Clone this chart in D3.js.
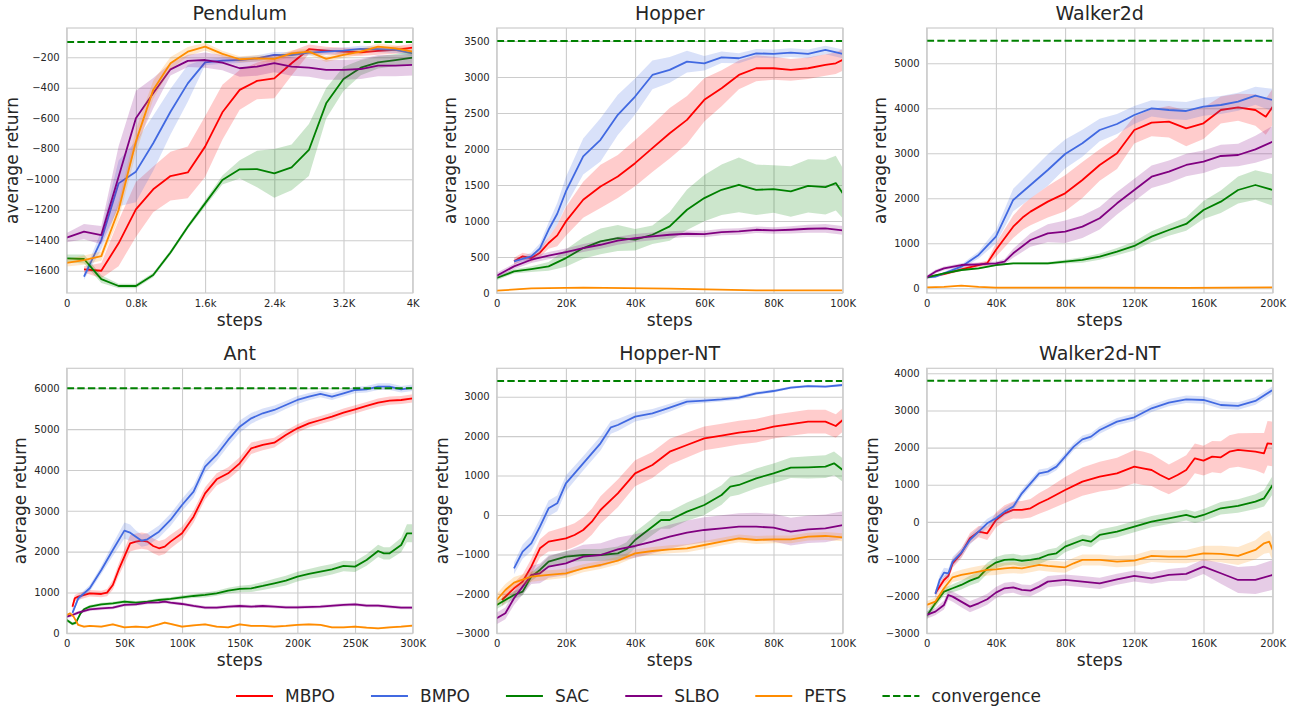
<!DOCTYPE html>
<html>
<head>
<meta charset="utf-8">
<script src="https://cdn.jsdelivr.net/npm/d3@7"></script>
<style>
  body { margin: 0; background: #fff; }
  text { font-family: 'DejaVu Sans', sans-serif; fill: #262626; }
</style>
</head>
<body>
<script>
// each point: [steps, mean return, spread of the shaded band]

const methods = ['MBPO', 'BMPO', 'SAC', 'SLBO', 'PETS'];
const methodColors = ['red', 'royalblue', 'green', 'purple', 'darkorange'];

// ---- Pendulum
const pendulumMBPO = [[200,-1591,20],[400,-1600,50],[600,-1420,150],[800,-1198,180],[1000,-1066,150],[1200,-979,160],[1400,-955,170],[1600,-786,200],[1800,-561,180],[2000,-414,130],[2200,-355,120],[2400,-338,130],[2600,-239,80],[2800,-147,30],[3000,-156,25],[3200,-163,25],[3400,-167,25],[3600,-158,25],[3800,-152,25],[4000,-137,25]];
const pendulumBMPO = [[200,-1639,20],[400,-1399,60],[600,-1027,150],[800,-950,200],[1000,-764,180],[1200,-557,150],[1400,-371,120],[1600,-233,20],[1800,-222,20],[2000,-218,20],[2200,-207,20],[2400,-185,20],[2600,-185,20],[2800,-169,20],[3000,-163,20],[3200,-156,20],[3400,-145,20],[3600,-147,20],[3800,-152,20],[4000,-174,20]];
const pendulumSAC = [[0,-1519,25],[200,-1523,30],[400,-1655,25],[600,-1700,15],[800,-1700,15],[1000,-1628,15],[1200,-1480,15],[1400,-1311,15],[1600,-1158,20],[1800,-1005,30],[2000,-935,60],[2200,-933,120],[2400,-961,160],[2600,-922,150],[2800,-808,170],[3000,-502,100],[3200,-342,80],[3400,-268,50],[3600,-233,40],[3800,-218,40],[4000,-202,40]];
const pendulumSLBO = [[0,-1383,30],[200,-1344,50],[400,-1366,60],[600,-983,200],[800,-600,180],[1000,-436,100],[1200,-279,40],[1400,-224,40],[1600,-218,50],[1800,-235,50],[2000,-272,55],[2200,-261,60],[2400,-239,60],[2600,-261,60],[2800,-268,60],[3000,-283,65],[3200,-283,65],[3400,-277,65],[3600,-255,70],[3800,-255,70],[4000,-250,70]];
const pendulumPETS = [[0,-1548,25],[200,-1530,30],[400,-1504,30],[600,-1202,60],[800,-753,80],[1000,-414,60],[1200,-239,40],[1400,-163,30],[1600,-130,25],[1800,-178,20],[2000,-213,20],[2200,-207,20],[2400,-211,20],[2600,-174,20],[2800,-163,20],[3000,-211,20],[3200,-185,20],[3400,-163,20],[3600,-130,20],[3800,-141,20],[4000,-163,20]];

// ---- Hopper
const hopperMBPO = [[5000,439,50],[7500,509,50],[10000,485,50],[12500,560,60],[15000,694,80],[17500,800,150],[20000,994,200],[25000,1295,250],[30000,1480,300],[35000,1618,300],[40000,1803,320],[45000,2011,330],[50000,2219,350],[55000,2404,330],[60000,2682,300],[65000,2843,250],[70000,3028,200],[75000,3121,180],[80000,3121,160],[85000,3098,150],[90000,3121,150],[95000,3167,150],[98000,3190,150],[100000,3237,150]];
const hopperBMPO = [[5000,439,30],[10000,509,50],[12500,620,70],[15000,878,100],[17500,1100,150],[20000,1410,200],[25000,1896,250],[30000,2127,300],[35000,2474,280],[40000,2728,250],[45000,3028,200],[50000,3098,180],[55000,3213,150],[60000,3190,100],[65000,3273,80],[70000,3260,70],[75000,3329,60],[80000,3320,60],[85000,3338,60],[90000,3320,60],[95000,3375,60],[100000,3320,60]];
const hopperSAC = [[0,208,30],[5000,300,30],[10000,333,40],[15000,370,60],[20000,485,120],[25000,624,150],[30000,717,180],[35000,763,180],[40000,740,150],[45000,809,130],[50000,925,200],[55000,1156,280],[60000,1318,320],[65000,1433,350],[70000,1503,380],[75000,1433,350],[80000,1443,330],[85000,1410,350],[90000,1489,370],[95000,1470,380],[98000,1526,380],[100000,1387,350]];
const hopperSLBO = [[0,240,40],[5000,370,40],[10000,462,45],[15000,518,50],[20000,569,50],[25000,624,55],[30000,670,55],[35000,726,55],[40000,763,55],[45000,786,55],[50000,809,50],[55000,823,45],[60000,818,45],[65000,846,45],[70000,855,45],[75000,878,45],[80000,869,45],[85000,878,50],[90000,892,55],[95000,897,60],[100000,869,60]];
const hopperPETS = [[0,32,5],[10000,65,5],[25000,74,5],[50000,60,5],[75000,37,5],[100000,37,5]];

// ---- Walker2d
const walkerMBPO = [[0,244,30],[10000,318,30],[20000,422,40],[30000,518,50],[35000,560,60],[40000,852,150],[50000,1370,250],[56000,1592,280],[60000,1704,300],[70000,1926,350],[80000,2111,400],[90000,2407,400],[100000,2741,350],[110000,3000,350],[120000,3518,300],[130000,3681,300],[140000,3704,350],[150000,3555,400],[160000,3667,350],[170000,3963,300],[180000,4022,300],[190000,3963,350],[196000,3815,400],[200000,4037,400]];
const walkerBMPO = [[0,244,30],[5000,259,30],[10000,333,30],[20000,481,50],[30000,741,80],[40000,1148,150],[50000,1963,250],[60000,2296,300],[70000,2630,350],[80000,2985,320],[90000,3222,300],[100000,3518,250],[110000,3652,220],[120000,3852,200],[130000,4000,180],[140000,3963,200],[150000,3941,200],[160000,4037,200],[170000,4074,200],[180000,4148,200],[190000,4281,200],[200000,4185,250]];
const walkerSAC = [[0,244,20],[10000,333,20],[20000,407,20],[30000,444,20],[40000,518,20],[50000,556,20],[60000,556,25],[70000,556,30],[80000,593,40],[90000,630,60],[100000,704,70],[110000,815,80],[120000,941,100],[130000,1148,120],[140000,1296,130],[150000,1430,150],[160000,1741,200],[170000,1926,250],[180000,2185,300],[190000,2296,330],[200000,2185,350]];
const walkerSLBO = [[0,244,40],[5000,370,40],[10000,444,40],[20000,518,40],[30000,533,40],[40000,556,40],[45000,593,60],[50000,778,100],[60000,1074,150],[70000,1222,200],[80000,1259,250],[90000,1370,250],[100000,1556,250],[110000,1889,250],[120000,2185,250],[130000,2481,250],[140000,2593,250],[150000,2741,250],[160000,2815,250],[170000,2941,250],[180000,2963,250],[190000,3089,300],[200000,3259,350]];
const walkerPETS = [[0,22,10],[10000,30,10],[20000,59,10],[30000,30,10],[40000,15,10],[100000,15,10],[150000,10,10],[200000,22,10]];

// ---- Ant
const antMBPO = [[5000,653,80],[7000,857,80],[10000,898,80],[20000,980,80],[30000,963,80],[35000,996,90],[40000,1184,120],[45000,1551,150],[50000,1878,180],[55000,2204,200],[60000,2245,200],[65000,2269,200],[70000,2245,200],[75000,2139,180],[80000,2082,180],[85000,2122,180],[90000,2245,170],[100000,2449,160],[110000,2857,150],[120000,3428,150],[130000,3771,150],[140000,3918,150],[150000,4163,150],[160000,4531,140],[170000,4612,130],[180000,4669,120],[190000,4857,110],[200000,5020,100],[210000,5143,100],[220000,5224,100],[230000,5306,100],[240000,5404,100],[250000,5486,100],[260000,5567,100],[270000,5649,100],[280000,5698,100],[290000,5714,100],[300000,5755,100]];
const antBMPO = [[5000,500,50],[10000,857,60],[20000,1102,80],[30000,1551,100],[40000,2041,150],[50000,2514,200],[55000,2465,200],[60000,2367,150],[65000,2269,150],[70000,2302,150],[80000,2490,150],[90000,2775,150],[100000,3143,150],[110000,3469,150],[120000,4082,150],[130000,4367,150],[140000,4735,150],[150000,5061,150],[160000,5265,130],[170000,5388,120],[180000,5469,110],[190000,5592,100],[200000,5714,100],[210000,5796,90],[220000,5861,80],[230000,5796,80],[240000,5878,80],[250000,5959,80],[260000,5976,80],[270000,6041,80],[280000,6041,80],[290000,5976,80],[300000,6016,80]];
const antSAC = [[0,327,40],[5000,229,40],[8000,261,40],[12000,490,40],[15000,588,40],[20000,653,40],[30000,710,40],[40000,735,40],[50000,775,40],[60000,751,40],[70000,775,40],[80000,816,40],[90000,841,40],[100000,882,50],[110000,914,50],[120000,939,60],[130000,980,60],[140000,1045,70],[150000,1086,80],[160000,1102,90],[170000,1159,100],[180000,1224,110],[190000,1290,120],[200000,1388,120],[210000,1453,120],[220000,1510,130],[230000,1567,130],[240000,1649,130],[250000,1633,130],[260000,1796,140],[270000,2016,150],[275000,1959,150],[280000,1959,150],[290000,2163,180],[295000,2449,220],[300000,2449,220]];
const antSLBO = [[0,408,40],[5000,449,40],[10000,506,40],[20000,588,40],[30000,612,40],[40000,629,40],[50000,694,40],[60000,710,40],[70000,751,40],[80000,759,40],[85000,775,40],[90000,751,40],[100000,718,40],[110000,669,40],[120000,629,40],[130000,629,40],[140000,653,40],[150000,669,40],[160000,653,40],[170000,669,40],[180000,653,40],[190000,637,40],[200000,637,40],[220000,653,40],[240000,694,40],[250000,710,40],[260000,678,40],[270000,678,40],[280000,653,40],[290000,629,40],[300000,629,40]];
const antPETS = [[0,449,25],[3000,490,25],[6000,408,25],[10000,204,25],[15000,163,25],[20000,180,25],[30000,163,25],[40000,220,25],[50000,147,25],[60000,163,25],[70000,147,25],[80000,220,25],[85000,261,25],[90000,229,25],[100000,163,25],[110000,196,25],[120000,220,25],[130000,163,25],[140000,147,25],[150000,220,25],[160000,180,25],[170000,180,25],[180000,163,25],[190000,180,25],[200000,204,25],[210000,220,25],[220000,204,25],[230000,147,25],[240000,147,25],[250000,163,25],[260000,139,25],[270000,122,25],[280000,147,25],[290000,163,25],[300000,188,25]];

// ---- Hopper-NT
const hopperNtMBPO = [[1500,-2155,150],[5000,-1859,150],[7500,-1690,180],[10000,-1310,200],[12500,-845,230],[15000,-676,250],[20000,-592,300],[22500,-507,300],[25000,-380,320],[27500,-169,330],[30000,127,350],[35000,549,350],[40000,1056,330],[45000,1268,330],[50000,1606,330],[55000,1775,320],[60000,1944,300],[65000,2011,300],[70000,2087,300],[75000,2138,300],[80000,2239,300],[85000,2307,300],[90000,2366,300],[95000,2366,300],[98000,2256,300],[100000,2408,300]];
const hopperNtBMPO = [[5000,-1352,150],[7500,-930,180],[10000,-718,200],[12500,-296,200],[15000,169,200],[17500,296,200],[20000,803,200],[25000,1310,180],[30000,1817,180],[33000,2223,160],[35000,2282,150],[40000,2493,120],[45000,2577,110],[50000,2721,100],[55000,2873,80],[60000,2899,60],[65000,2932,55],[70000,2975,50],[75000,3085,45],[80000,3144,40],[85000,3228,35],[90000,3270,30],[95000,3254,30],[100000,3296,30]];
const hopperNtSAC = [[0,-2282,100],[5000,-2028,100],[7500,-1944,100],[10000,-1563,110],[12500,-1394,120],[15000,-1183,130],[20000,-1056,140],[25000,-1014,150],[30000,-1014,150],[35000,-972,170],[37500,-870,180],[40000,-634,200],[45000,-296,210],[47500,-127,220],[50000,-127,220],[55000,84,230],[60000,253,250],[65000,507,250],[67500,718,250],[70000,761,250],[75000,930,250],[80000,1056,250],[85000,1200,260],[90000,1208,280],[95000,1225,290],[97500,1310,300],[100000,1141,300]];
const hopperNtSLBO = [[0,-2620,150],[2500,-2493,150],[5000,-2113,170],[7500,-1817,200],[10000,-1521,230],[12500,-1479,250],[15000,-1310,280],[20000,-1225,300],[25000,-1056,300],[30000,-1014,300],[35000,-870,300],[40000,-786,300],[45000,-676,300],[50000,-549,300],[55000,-448,310],[60000,-380,320],[65000,-338,330],[70000,-296,340],[75000,-296,350],[80000,-321,350],[85000,-423,350],[90000,-363,350],[95000,-338,350],[100000,-254,350]];
const hopperNtPETS = [[0,-2155,150],[2500,-1902,150],[5000,-1715,140],[10000,-1563,130],[15000,-1521,120],[20000,-1479,110],[25000,-1352,100],[30000,-1268,100],[35000,-1158,100],[40000,-972,100],[45000,-913,100],[50000,-870,100],[55000,-845,100],[60000,-761,100],[65000,-676,100],[70000,-592,100],[75000,-634,100],[80000,-617,100],[85000,-617,100],[90000,-549,100],[95000,-532,100],[100000,-566,100]];

// ---- Walker2d-NT
const walkerNtMBPO = [[5000,-1923,100],[10000,-1564,100],[12500,-1456,110],[15000,-1115,120],[20000,-846,130],[25000,-442,140],[30000,-263,150],[35000,-307,180],[40000,51,200],[45000,231,220],[50000,321,230],[55000,321,240],[60000,366,250],[65000,500,280],[70000,608,300],[80000,859,350],[90000,1084,380],[100000,1218,400],[110000,1308,420],[120000,1487,450],[125000,1442,450],[130000,1397,430],[135000,1263,420],[140000,1147,400],[145000,1263,400],[150000,1397,400],[155000,1712,400],[160000,1649,400],[165000,1756,420],[170000,1739,430],[175000,1891,440],[180000,1936,450],[190000,1891,500],[195000,1846,550],[197000,2115,600],[200000,2097,600]];
const walkerNtBMPO = [[5000,-1941,100],[7500,-1564,120],[10000,-1366,130],[12500,-1384,130],[15000,-1070,130],[20000,-828,120],[25000,-487,120],[30000,-263,120],[35000,-38,120],[40000,96,120],[45000,276,110],[50000,410,110],[55000,769,100],[60000,1039,100],[65000,1308,100],[70000,1353,100],[75000,1487,100],[80000,1756,100],[85000,2026,100],[90000,2223,100],[95000,2295,100],[100000,2474,100],[110000,2699,100],[120000,2815,100],[130000,3058,100],[140000,3210,100],[150000,3300,100],[160000,3282,100],[170000,3147,100],[180000,3121,100],[190000,3255,100],[200000,3551,100]];
const walkerNtSAC = [[0,-2533,100],[5000,-2192,100],[10000,-1878,100],[15000,-1788,110],[20000,-1698,120],[25000,-1582,130],[30000,-1492,140],[35000,-1250,150],[40000,-1097,150],[45000,-1025,150],[50000,-1007,150],[55000,-1052,150],[60000,-1025,150],[65000,-981,150],[70000,-891,150],[75000,-846,150],[80000,-667,150],[90000,-487,150],[95000,-532,150],[100000,-353,150],[110000,-263,150],[120000,-128,150],[130000,6,150],[140000,96,150],[150000,186,150],[155000,123,150],[160000,186,160],[170000,366,170],[180000,428,180],[190000,545,200],[195000,635,220],[200000,994,250]];
const walkerNtSLBO = [[0,-2506,100],[5000,-2416,100],[10000,-2237,120],[12500,-1968,130],[15000,-2013,140],[20000,-2147,150],[25000,-2282,150],[30000,-2192,150],[35000,-2084,150],[40000,-1905,150],[45000,-1788,150],[50000,-1761,150],[55000,-1833,150],[60000,-1851,150],[65000,-1743,150],[70000,-1609,150],[80000,-1564,150],[90000,-1609,150],[100000,-1654,150],[110000,-1546,150],[120000,-1456,150],[130000,-1519,150],[140000,-1429,160],[150000,-1402,180],[160000,-1205,200],[170000,-1384,280],[180000,-1564,350],[190000,-1564,380],[200000,-1429,400]];
const walkerNtPETS = [[0,-2237,100],[5000,-2147,110],[10000,-1788,120],[15000,-1492,130],[20000,-1429,140],[25000,-1384,150],[30000,-1340,150],[35000,-1295,150],[40000,-1277,150],[45000,-1250,150],[50000,-1232,150],[55000,-1250,150],[60000,-1205,150],[65000,-1160,150],[70000,-1187,150],[75000,-1205,150],[80000,-1223,150],[85000,-1115,150],[90000,-1025,150],[100000,-1025,150],[110000,-1070,150],[120000,-1043,150],[130000,-918,160],[140000,-936,170],[150000,-936,180],[160000,-846,200],[170000,-864,220],[180000,-918,240],[190000,-756,260],[195000,-577,280],[198000,-532,300],[200000,-756,300]];

// ---- titles, convergence levels, axis domains and ticks
const titles = ['Pendulum', 'Hopper', 'Walker2d', 'Ant', 'Hopper-NT', 'Walker2d-NT'];
const convergence = [-100, 3500, 5500, 6000, 3400, 3800];
const xMax = [4000, 100000, 200000, 300000, 100000, 200000];
const yDomains = [[-1746, -8], [0, 3680], [-104, 5785], [0, 6490], [-3000, 3720], [-3000, 4135]];
const pendulumXTicks = [0, 800, 1600, 2400, 3200, 4000];
const pendulumXLabels = ['0', '0.8k', '1.6k', '2.4k', '3.2K', '4K'];
const k100XTicks = [0, 20000, 40000, 60000, 80000, 100000];
const k100XLabels = ['0', '20K', '40K', '60K', '80K', '100K'];
const k200XTicks = [0, 40000, 80000, 120000, 160000, 200000];
const k200XLabels = ['0', '40K', '80K', '120K', '160K', '200K'];
const k300XTicks = [0, 50000, 100000, 150000, 200000, 250000, 300000];
const k300XLabels = ['0', '50K', '100K', '150K', '200K', '250K', '300K'];
const pendulumYTicks = [-1600, -1400, -1200, -1000, -800, -600, -400, -200];
const hopperYTicks = [0, 500, 1000, 1500, 2000, 2500, 3000, 3500];
const walkerYTicks = [0, 1000, 2000, 3000, 4000, 5000];
const antYTicks = [0, 1000, 2000, 3000, 4000, 5000, 6000];
const hopperNtYTicks = [-3000, -2000, -1000, 0, 1000, 2000, 3000];
const walkerNtYTicks = [-3000, -2000, -1000, 0, 1000, 2000, 3000, 4000];

const panels = [
  { series: [pendulumMBPO, pendulumBMPO, pendulumSAC, pendulumSLBO, pendulumPETS], xt: pendulumXTicks, xl: pendulumXLabels, yt: pendulumYTicks },
  { series: [hopperMBPO, hopperBMPO, hopperSAC, hopperSLBO, hopperPETS], xt: k100XTicks, xl: k100XLabels, yt: hopperYTicks },
  { series: [walkerMBPO, walkerBMPO, walkerSAC, walkerSLBO, walkerPETS], xt: k200XTicks, xl: k200XLabels, yt: walkerYTicks },
  { series: [antMBPO, antBMPO, antSAC, antSLBO, antPETS], xt: k300XTicks, xl: k300XLabels, yt: antYTicks },
  { series: [hopperNtMBPO, hopperNtBMPO, hopperNtSAC, hopperNtSLBO, hopperNtPETS], xt: k100XTicks, xl: k100XLabels, yt: hopperNtYTicks },
  { series: [walkerNtMBPO, walkerNtBMPO, walkerNtSAC, walkerNtSLBO, walkerNtPETS], xt: k200XTicks, xl: k200XLabels, yt: walkerNtYTicks }
];

const width = 1297;
const height = 708;
const plotLefts = [66.7, 496.7, 926.7];
const plotTops = [28, 368.3];
const plotW = 346;
const plotH = 265;
const gridColor = '#cccccc';
const minus = (d) => (d < 0 ? '\u2212' + Math.abs(d) : String(d));

const svg = d3.select('body').append('svg').attr('width', width).attr('height', height);

panels.forEach((p, i) => {
  const left = plotLefts[i % 3];
  const top = plotTops[Math.floor(i / 3)];
  const g = svg.append('g').attr('transform', `translate(${left},${top})`);

  const x = d3.scaleLinear().domain([0, xMax[i]]).range([0, plotW]);
  const y = d3.scaleLinear().domain(yDomains[i]).range([plotH, 0]);

  // grid
  g.append('g')
    .attr('transform', `translate(0,${plotH})`)
    .call(d3.axisBottom(x).tickValues(p.xt).tickSize(-plotH).tickFormat(''))
    .call((a) => a.select('.domain').remove())
    .call((a) => a.selectAll('line').attr('stroke', gridColor).attr('stroke-width', 1.1));
  g.append('g')
    .call(d3.axisLeft(y).tickValues(p.yt).tickSize(-plotW).tickFormat(''))
    .call((a) => a.select('.domain').remove())
    .call((a) => a.selectAll('line').attr('stroke', gridColor).attr('stroke-width', 1.1));

  // tick labels
  const xAxis = g.append('g')
    .attr('transform', `translate(0,${plotH})`)
    .call(d3.axisBottom(x).tickValues(p.xt).tickSize(0).tickPadding(7).tickFormat((d, j) => p.xl[j]));
  const yAxis = g.append('g')
    .call(d3.axisLeft(y).tickValues(p.yt).tickSize(0).tickPadding(7).tickFormat(minus));
  [xAxis, yAxis].forEach((a) => {
    a.select('.domain').remove();
    a.attr('font-family', null).attr('font-size', null);
    a.selectAll('text').style('font-size', '10px').attr('fill', '#262626');
  });

  // curves
  const clipId = `clip-${i}`;
  g.append('clipPath').attr('id', clipId).append('rect').attr('width', plotW).attr('height', plotH);
  const plot = g.append('g').attr('clip-path', `url(#${clipId})`);

  const band = d3.area().x((d) => x(d[0])).y0((d) => y(d[1] - d[2])).y1((d) => y(d[1] + d[2]));
  const line = d3.line().x((d) => x(d[0])).y((d) => y(d[1]));

  p.series.forEach((s, j) => {
    plot.append('path').attr('d', band(s)).attr('fill', methodColors[j]).attr('fill-opacity', 0.2);
    plot.append('path').attr('d', line(s)).attr('fill', 'none')
      .attr('stroke', methodColors[j]).attr('stroke-width', 1.8).attr('stroke-linejoin', 'round');
  });

  plot.append('line')
    .attr('x1', x(0)).attr('x2', x(xMax[i]))
    .attr('y1', y(convergence[i])).attr('y2', y(convergence[i]))
    .attr('stroke', 'green').attr('stroke-width', 2).attr('stroke-dasharray', '7.4,3.2');

  // frame
  g.append('rect').attr('width', plotW).attr('height', plotH)
    .attr('fill', 'none').attr('stroke', gridColor).attr('stroke-width', 1.2);

  // labels
  g.append('text').attr('x', plotW / 2).attr('y', -8.5).attr('text-anchor', 'middle')
    .style('font-size', '19px').text(titles[i]);
  g.append('text').attr('x', plotW / 2).attr('y', plotH + 32.5).attr('text-anchor', 'middle')
    .style('font-size', '17px').text('steps');
  const yBox = yAxis.node().getBBox();
  g.append('text')
    .attr('transform', `translate(${yBox.x - 8},${plotH / 2}) rotate(-90)`)
    .attr('text-anchor', 'middle').style('font-size', '17px').text('average return');
});

// legend
const legendItems = methods.map((m, j) => ({ name: m, color: methodColors[j], dash: null }))
  .concat([{ name: 'convergence', color: 'green', dash: '7.4,3.2' }]);
const legend = svg.append('g').attr('transform', 'translate(236,696)');
let lx = 0;
legendItems.forEach((it) => {
  legend.append('line').attr('x1', lx).attr('x2', lx + 37).attr('y1', 0).attr('y2', 0)
    .attr('stroke', it.color).attr('stroke-width', 2).attr('stroke-dasharray', it.dash);
  const t = legend.append('text').attr('x', lx + 49).attr('y', 6).style('font-size', '17px').text(it.name);
  lx += 49 + t.node().getComputedTextLength() + 36;
});
</script>
</body>
</html>
